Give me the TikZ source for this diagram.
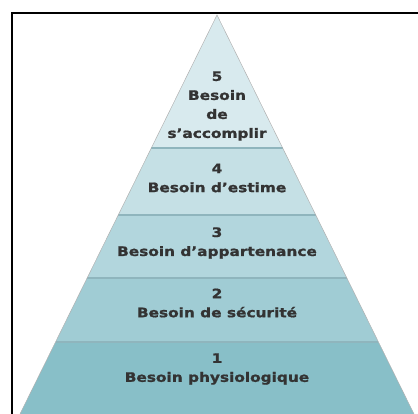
\documentclass[tikz,border=0pt]{standalone}
\usepackage{fontspec}
\setmainfont{DejaVu Sans}
\newfontfamily\levelfont[FakeStretch=1.18,FakeBold=1.2]{DejaVu Sans}
\usetikzlibrary{calc}
\definecolor{levelone}{HTML}{88BFC8}
\definecolor{leveltwo}{HTML}{A0CCD4}
\definecolor{levelthree}{HTML}{B2D6DD}
\definecolor{levelfour}{HTML}{C5E0E5}
\definecolor{levelfive}{HTML}{D8EAEE}
\definecolor{sepblue}{HTML}{8FB5BD}
\definecolor{labelgray}{HTML}{333333}

\begin{document}
\begin{tikzpicture}[x=1pt,y=-1pt,%
frame/.style={line width=2pt,draw=black},
rim/.style={draw=black!30,line width=0.5pt},
sep/.style={draw=sepblue,line width=1.5pt},
level/.style={font=\levelfont\bfseries\fontsize{13}{19}\selectfont,text=labelgray,align=center,inner sep=0pt}
]
\useasboundingbox (0,0) rectangle (418,414);
\clip (0,0) rectangle (418,414);
\draw[style=frame] (12,440) -- (12,13) -- (440,13);
\coordinate (apex) at (217,15);
\coordinate (left) at (20,414);
\coordinate (right) at (414,414);
\coordinate (l4) at ($(apex)!0.3333!(left)$);
\coordinate (r4) at ($(apex)!0.3333!(right)$);
\coordinate (l3) at ($(apex)!0.5013!(left)$);
\coordinate (r3) at ($(apex)!0.5013!(right)$);
\coordinate (l2) at ($(apex)!0.659!(left)$);
\coordinate (r2) at ($(apex)!0.659!(right)$);
\coordinate (l1) at ($(apex)!0.8195!(left)$);
\coordinate (r1) at ($(apex)!0.8195!(right)$);
\fill[levelfive] (apex) -- (r4) -- (l4) -- cycle;
\fill[levelfour] (l4) -- (r4) -- (r3) -- (l3) -- cycle;
\fill[levelthree] (l3) -- (r3) -- (r2) -- (l2) -- cycle;
\fill[leveltwo] (l2) -- (r2) -- (r1) -- (l1) -- cycle;
\fill[levelone] (l1) -- (r1) -- (right) -- (left) -- cycle;
\path[style=sep] (l4) -- (r4);
\path[style=sep] (l3) -- (r3);
\path[style=sep] (l2) -- (r2);
\path[style=sep] (l1) -- (r1);
\path[style=rim] (left) -- (apex) -- (right);
\node[style=level] (need5) at (217,106) {5\\Besoin\\de\\s’accomplir};
\node[style=level] (need4) at (217,178) {4\\Besoin d’estime};
\node[style=level] (need3) at (217,243) {3\\Besoin d’appartenance};
\node[style=level] (need2) at (217,303) {2\\Besoin de sécurité};
\node[style=level] (need1) at (217,369) {1\\Besoin physiologique};
\end{tikzpicture}
\end{document}
